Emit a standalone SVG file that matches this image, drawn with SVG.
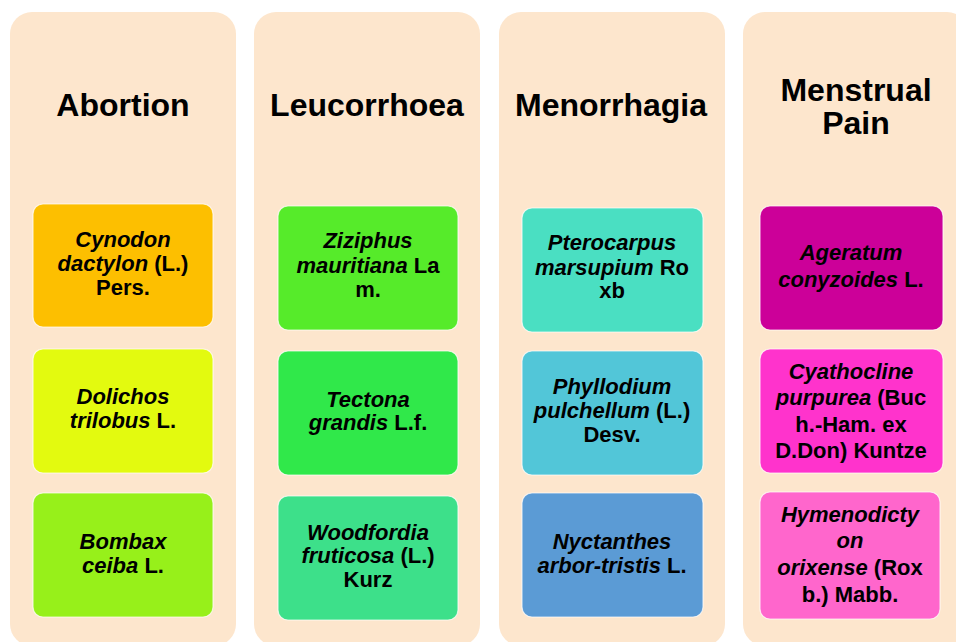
<svg xmlns="http://www.w3.org/2000/svg" width="956" height="642" viewBox="0 0 956 642">
<style>
.panel{fill:#FDE6CD;}
.title{font-family:"Liberation Sans",Arial,sans-serif;font-weight:bold;font-size:32px;fill:#000;text-anchor:middle;}
.box{stroke:#ffffff;stroke-opacity:0.7;stroke-width:1.2;}
.lbl{font-family:"Liberation Sans",Arial,sans-serif;font-weight:bold;font-style:italic;font-size:22px;fill:#000;text-anchor:middle;}
.n{font-style:normal;}
</style>
<rect x="0" y="0" width="956" height="642" fill="#ffffff"/>
<g id="col-abortion">
<rect class="panel" x="10" y="12" width="226" height="634" rx="22"/>
<text class="title" x="123" y="116">Abortion</text>
</g>
<g id="col-leucorrhoea">
<rect class="panel" x="254" y="12" width="226" height="634" rx="22"/>
<text class="title" x="367" y="116">Leucorrhoea</text>
</g>
<g id="col-menorrhagia">
<rect class="panel" x="499" y="12" width="226" height="634" rx="22"/>
<text class="title" x="611" y="116">Menorrhagia</text>
</g>
<g id="col-menstrual">
<rect class="panel" x="743" y="12" width="226" height="634" rx="22"/>
<text class="title" x="856" y="101">Menstrual</text>
<text class="title" x="856" y="134">Pain</text>
</g>

<g id="n-cynodon">
<rect class="box" x="33" y="204" width="180" height="123" rx="10" fill="#FDBF00"/>
<text class="lbl"><tspan x="123" y="247">Cynodon</tspan><tspan x="123" y="271">dactylon <tspan class="n">(L.)</tspan></tspan><tspan class="n" x="123" y="295">Pers.</tspan></text>
</g>
<g id="n-dolichos">
<rect class="box" x="33" y="349" width="180" height="124" rx="10" fill="#E3FA0F"/>
<text class="lbl"><tspan x="123" y="404">Dolichos</tspan><tspan x="123" y="428">trilobus <tspan class="n">L.</tspan></tspan></text>
</g>
<g id="n-bombax">
<rect class="box" x="33" y="493" width="180" height="124" rx="10" fill="#97F01A"/>
<text class="lbl"><tspan x="123" y="549">Bombax</tspan><tspan x="123" y="573">ceiba <tspan class="n">L.</tspan></tspan></text>
</g>

<g id="n-ziziphus">
<rect class="box" x="278" y="206" width="180" height="124" rx="10" fill="#56EB2A"/>
<text class="lbl"><tspan x="368" y="248">Ziziphus</tspan><tspan x="368" y="273">mauritiana <tspan class="n">La</tspan></tspan><tspan class="n" x="368" y="297">m.</tspan></text>
</g>
<g id="n-tectona">
<rect class="box" x="278" y="351" width="180" height="124" rx="10" fill="#30E84A"/>
<text class="lbl"><tspan x="368" y="407">Tectona</tspan><tspan x="368" y="430">grandis <tspan class="n">L.f.</tspan></tspan></text>
</g>
<g id="n-woodfordia">
<rect class="box" x="278" y="496" width="180" height="124" rx="10" fill="#3DE08A"/>
<text class="lbl"><tspan x="368" y="540">Woodfordia</tspan><tspan x="368" y="563">fruticosa <tspan class="n">(L.)</tspan></tspan><tspan class="n" x="368" y="587">Kurz</tspan></text>
</g>

<g id="n-pterocarpus">
<rect class="box" x="522" y="208" width="181" height="124" rx="10" fill="#4ADFC2"/>
<text class="lbl"><tspan x="612" y="250">Pterocarpus</tspan><tspan x="612" y="275">marsupium <tspan class="n">Ro</tspan></tspan><tspan class="n" x="612" y="298">xb</tspan></text>
</g>
<g id="n-phyllodium">
<rect class="box" x="522" y="351" width="181" height="124" rx="10" fill="#52C6D8"/>
<text class="lbl"><tspan x="612" y="394">Phyllodium</tspan><tspan x="612" y="418">pulchellum <tspan class="n">(L.)</tspan></tspan><tspan class="n" x="612" y="442">Desv.</tspan></text>
</g>
<g id="n-nyctanthes">
<rect class="box" x="522" y="493" width="181" height="124" rx="10" fill="#5B9BD5"/>
<text class="lbl"><tspan x="612" y="549">Nyctanthes</tspan><tspan x="612" y="573">arbor-tristis <tspan class="n">L.</tspan></tspan></text>
</g>

<g id="n-ageratum">
<rect class="box" x="760" y="206" width="183" height="124" rx="10" fill="#CC0099"/>
<text class="lbl"><tspan x="851" y="260">Ageratum</tspan><tspan x="851" y="287">conyzoides <tspan class="n">L.</tspan></tspan></text>
</g>
<g id="n-cyathocline">
<rect class="box" x="760" y="349" width="183" height="124" rx="10" fill="#FF33CC"/>
<text class="lbl"><tspan x="851" y="379">Cyathocline</tspan><tspan x="851" y="405">purpurea <tspan class="n">(Buc</tspan></tspan><tspan class="n" x="851" y="432">h.-Ham. ex</tspan><tspan class="n" x="851" y="458">D.Don) Kuntze</tspan></text>
</g>
<g id="n-hymenodictyon">
<rect class="box" x="760" y="492" width="180" height="127" rx="10" fill="#FF66CC"/>
<text class="lbl"><tspan x="850" y="522">Hymenodicty</tspan><tspan x="850" y="548">on</tspan><tspan x="850" y="575">orixense <tspan class="n">(Rox</tspan></tspan><tspan class="n" x="850" y="602">b.) Mabb.</tspan></text>
</g>
</svg>
